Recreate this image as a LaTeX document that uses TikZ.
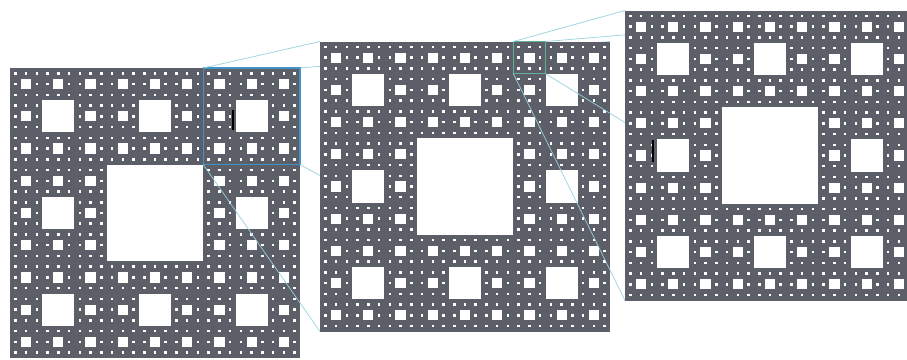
\documentclass[tikz,border=0pt]{standalone}
\definecolor{carpetgray}{RGB}{92,95,104}
\definecolor{boxblue}{RGB}{64,146,200}
\definecolor{boxgreen}{RGB}{96,178,150}
\definecolor{linkcyan}{RGB}{150,210,222}
\tikzset{
  carpetnode/.style={draw=none,inner sep=0pt,outer sep=0pt,anchor=north west,minimum width=#1,minimum height=#1},
  zoombox/.style={draw=#1,inner sep=0pt,outer sep=0pt,anchor=north west},
  link/.style={draw=linkcyan,line width=0.8pt,opacity=0.9},
  cursor/.style={fill=black}
}
% #1,#2 = top-left corner, #3 = side
\newcommand{\carpetfill}[3]{%
  \fill[carpetgray] (#1,#2) rectangle ++(#3,#3);
  \foreach \n/\s in {1/1,3/1,9/0.95,27/0.7}{%
    \pgfmathsetmacro{\cc}{#3/(3*\n)}%
    \pgfmathsetmacro{\hh}{\cc*\s}%
    \pgfmathsetmacro{\oo}{(\cc-\hh)/2}%
    \pgfmathtruncatemacro{\mm}{\n-1}%
    \foreach \a in {0,...,\mm}{%
      \foreach \b in {0,...,\mm}{%
        \fill[white] ({#1+(3*\a+1)*\cc+\oo},{#2+(3*\b+1)*\cc+\oo}) rectangle ++(\hh,\hh);
      }%
    }%
  }%
}
\begin{document}
\begin{tikzpicture}[x=1pt,y=-1pt]
\useasboundingbox (0,0) rectangle (907,359);
\begin{scope}
\clip (0,0) rectangle (907,359);
% named frames
\node[carpetnode=290pt] (C1) at (10,68) {};
\node[carpetnode=290pt] (C2) at (320,41.5) {};
\node[carpetnode=290pt] (C3) at (625,10.5) {};
% carpet 1
\carpetfill{10}{68}{290}
\fill[cursor] (232.3,110) rectangle (234.3,130);
\node[zoombox=boxblue,line width=1.4pt,minimum width=96.67pt,minimum height=96.67pt] (B1) at (203.33,68) {};
\draw[link] (B1.north west) -- (C2.north west);
\draw[link] (B1.north east) -- (C2.north east);
\draw[link] (B1.south west) -- (C2.south west);
\draw[link] (B1.south east) -- (C2.south east);
% carpet 2
\carpetfill{320}{41.5}{290}
\node[zoombox=boxgreen,line width=1pt,minimum width=32.22pt,minimum height=32.22pt] (B2) at (513.33,41.5) {};
\draw[link] (B2.north west) -- (C3.north west);
\draw[link] (B2.north east) -- (C3.north east);
\draw[link] (B2.south west) -- (C3.south west);
\draw[link] (B2.south east) -- (C3.south east);
% carpet 3
\carpetfill{625}{10.5}{290}
\fill[cursor] (652.3,140) rectangle (654.3,162);
\end{scope}
\end{tikzpicture}
\end{document}
